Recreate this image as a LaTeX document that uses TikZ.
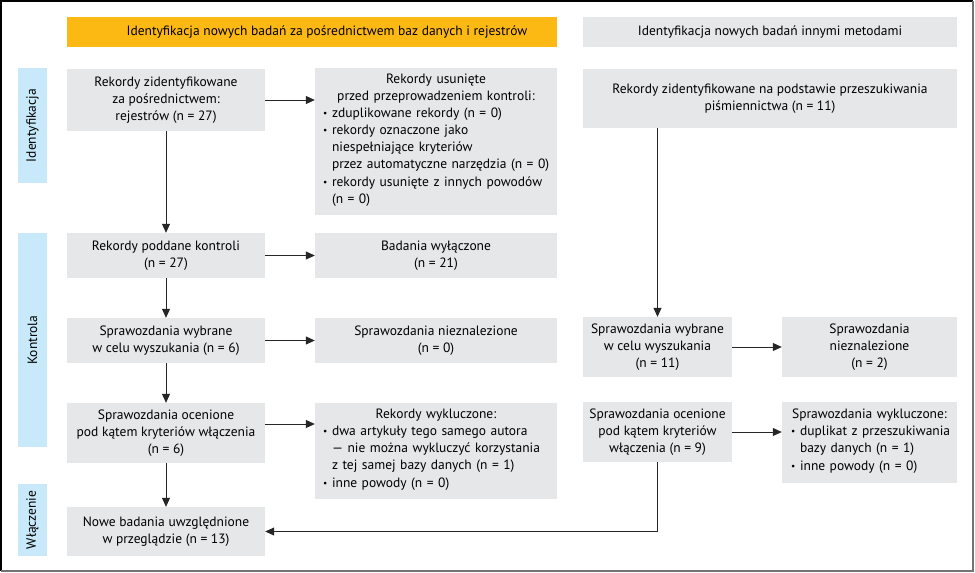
\documentclass[tikz,border=0pt]{standalone}
\usepackage{fontspec}
\setmainfont{PT Sans}
\usepackage{tikz}
\usetikzlibrary{positioning,arrows.meta,calc}
\usepackage{xcolor}
\definecolor{prismaorange}{HTML}{FDB913}
\definecolor{prismagray}{HTML}{E6E7E8}
\definecolor{prismablue}{HTML}{C7E9F9}
\newcommand{\pkt}[1]{\noindent\makebox[9pt][l]{\raisebox{0.2ex}{\scalebox{0.7}{\textbullet}}}\begin{tabular}[t]{@{}l@{}}#1\end{tabular}\par}

\begin{document}
\begin{tikzpicture}[x=1pt,y=-1pt,every node/.style={font=\fontsize{13.5}{17}\selectfont},
  box/.style={fill=prismagray,inner sep=0pt,align=center},
  listbox/.style={box,text width=#1,align=left},
  side/.style={fill=prismablue,inner sep=0pt,rotate=90},
  arr/.style={-{Triangle[length=9pt,width=8pt]},line width=0.8pt,black!85}]
\useasboundingbox (0,0) rectangle (975,573);
\fill[white] (0,0) rectangle (975,573);
\draw[line width=1.3pt] (1,571) -- (1,1) -- (973,1);
\draw[black!55,line width=2pt] (973,1) -- (973,571) -- (1,571);
% naglowki
\node[box,fill=prismaorange,minimum width=490pt,minimum height=30pt] (hbaz) at (312,32) {\hspace*{30pt}Identyfikacja nowych badań za pośrednictwem baz danych i rejestrów};
\node[box,minimum width=374pt,minimum height=30pt] (hinne) at (770,32) {Identyfikacja nowych badań innymi metodami};
% paski boczne
\node[side,minimum width=115pt,minimum height=29pt] (sident) at (32.5,125.5) {Identyfikacja};
\node[side,minimum width=214pt,minimum height=29pt] (skontr) at (32.5,340) {Kontrola};
\node[side,minimum width=72pt,minimum height=29pt] (swlacz) at (32.5,520) {Włączenie};
% bazy danych i rejestry
\node[box,minimum width=198pt,minimum height=62pt] (rekid) at (166,100) {Rekordy zidentyfikowane\\za pośrednictwem:\\rejestrów (n = 27)};
\node[listbox=226pt,minimum width=242pt,minimum height=147pt] (usun) at (436,141.5) {{\centering Rekordy usunięte\\przed przeprowadzeniem kontroli:\par}
\pkt{zduplikowane rekordy (n = 0)}
\pkt{rekordy oznaczone jako\\niespełniające kryteriów\\przez automatyczne narzędzia (n = 0)}
\pkt{rekordy usunięte z innych powodów\\(n = 0)}};
\node[box,minimum width=198pt,minimum height=45pt] (kontr) at (166,255.5) {Rekordy poddane kontroli\\(n = 27)};
\node[box,minimum width=242pt,minimum height=45pt] (wylacz) at (436,255.5) {Badania wyłączone\\(n = 21)};
\node[box,minimum width=198pt,minimum height=45pt] (wybr6) at (166,340.5) {Sprawozdania wybrane\\w celu wyszukania (n = 6)};
\node[box,minimum width=242pt,minimum height=45pt] (niezn0) at (436,340.5) {Sprawozdania nieznalezione\\(n = 0)};
\node[box,minimum width=198pt,minimum height=60pt] (ocen6) at (166,433) {Sprawozdania ocenione\\pod kątem kryteriów włączenia\\(n = 6)};
\node[listbox=226pt,minimum width=242pt,minimum height=96pt] (wykl) at (436,451) {{\centering Rekordy wykluczone:\par}
\pkt{dwa artykuły tego samego autora\\— nie można wykluczyć korzystania\\z tej samej bazy danych (n = 1)}
\pkt{inne powody (n = 0)}};
\node[box,minimum width=198pt,minimum height=49pt] (nowe) at (166,531.5) {Nowe badania uwzględnione\\w przeglądzie (n = 13)};
% inne metody
\node[box,minimum width=374pt,minimum height=59pt] (rekpis) at (770,98.5) {Rekordy zidentyfikowane na podstawie przeszukiwania\\piśmiennictwa (n = 11)};
\node[box,minimum width=149pt,minimum height=60pt] (wybr11) at (657.5,347) {Sprawozdania wybrane\\w celu wyszukania\\(n = 11)};
\node[box,minimum width=175pt,minimum height=60pt] (niezn2) at (869.5,347) {Sprawozdania\\nieznalezione\\(n = 2)};
\node[box,minimum width=149pt,minimum height=60pt] (ocen9) at (657.5,432) {Sprawozdania ocenione\\pod kątem kryteriów\\włączenia (n = 9)};
\node[listbox=157pt,minimum width=175pt,minimum height=81pt] (wykl9) at (869.5,442.5) {{\centering Sprawozdania wykluczone:\par}
\pkt{duplikat z przeszukiwania\\bazy danych (n = 1)}
\pkt{inne powody (n = 0)}};
% strzalki
\draw[arr] (rekid) -- (kontr);
\draw[arr] (kontr) -- (wybr6);
\draw[arr] (wybr6) -- (ocen6);
\draw[arr] (ocen6) -- (nowe);
\draw[arr] (rekid.east) -- (rekid.east -| usun.west);
\draw[arr] (kontr.east) -- (kontr.east -| wylacz.west);
\draw[arr] (wybr6.east) -- (wybr6.east -| niezn0.west);
\draw[arr] ([yshift=9pt]ocen6.east) -- ([yshift=9pt]ocen6.east -| wykl.west);
\draw[arr] (rekpis.south -| wybr11.north) -- (wybr11.north);
\draw[arr] (wybr11) -- (niezn2);
\draw[arr] (ocen9.east) -- (ocen9.east -| wykl9.west);
\draw[arr] (ocen9.south) |- (nowe.east);
\end{tikzpicture}
\end{document}
